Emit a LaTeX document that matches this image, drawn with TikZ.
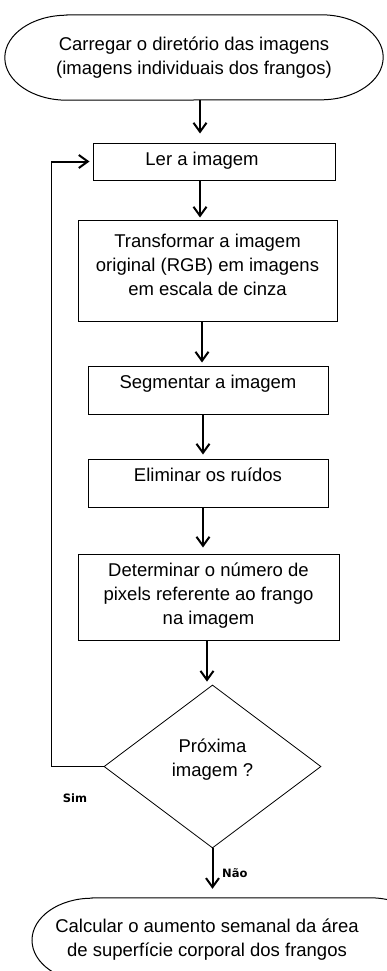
\documentclass[tikz,border=0pt]{standalone}
\usepackage{fontspec}
\setmainfont{Liberation Sans}
\newfontfamily\labfont{DejaVu Sans}
\usetikzlibrary{arrows.meta,shapes.geometric}
\begin{document}
\begin{tikzpicture}[x=1pt,y=-1pt,
  txt/.style={font=\fontsize{18.5}{24}\selectfont, align=center, inner sep=0pt},
  procbox/.style={txt, draw, line width=1pt, rectangle},
  arr/.style={line width=2pt, -{Straight Barb[length=9pt,width=13pt]}},
  thinline/.style={line width=1pt},
  lab/.style={font=\labfont\bfseries\fontsize{11.5}{13}\selectfont, inner sep=0pt}]
\useasboundingbox (0,0) rectangle (387,971);
\fill[white] (0,0) rectangle (387,971);
\clip (0,0) rectangle (387,971);

% start terminator
\node[txt, minimum width=378, minimum height=85] (T1) at (194,57.5)
  {Carregar o diretório das imagens\\(imagens individuais dos frangos)};
\draw[thinline] ([xshift=62]T1.north west) -- ([xshift=-62]T1.north east)
  arc[start angle=-90,end angle=90,x radius=62,y radius=42.5]
  -- ([xshift=62]T1.south west)
  arc[start angle=90,end angle=270,x radius=62,y radius=42.5] -- cycle;

\node[procbox, minimum width=242, minimum height=37, text depth=5] (L) at (214,161.5)
  {\hspace*{-24pt}Ler a imagem};
\node[procbox, minimum width=259, minimum height=101, text depth=12] (B2) at (207.5,270.5)
  {Transformar a imagem\\original (RGB) em imagens\\em escala de cinza};
\node[procbox, minimum width=240, minimum height=48, text depth=16] (B3) at (208,390)
  {Segmentar a imagem};
\node[procbox, minimum width=240, minimum height=48, text depth=16] (B4) at (208,483)
  {Eliminar os ruídos};
\node[procbox, minimum width=261, minimum height=86, text depth=7] (B5) at (208.5,597)
  {Determinar o número de\\pixels referente ao frango\\na imagem};
\node[txt, draw, diamond, line width=0.8pt, minimum width=217, minimum height=163,
  text depth=18.5] (D) at (212.5,766.5) {Próxima\\imagem ?};

% end terminator
\node[txt, minimum height=84] (B7) at (207,940)
  {Calcular o aumento semanal da área\\de superfície corporal dos frangos};
\draw[thinline] ([xshift=-115]B7.north) -- ([xshift=163]B7.north)
  arc[start angle=-90,end angle=90,x radius=60,y radius=42]
  -- ([xshift=-115]B7.south)
  arc[start angle=90,end angle=270,x radius=60,y radius=42] -- cycle;

% connectors
\draw[arr] ([xshift=6]T1.south) -- ([xshift=-14,yshift=9]L.north);
\draw[arr] ([xshift=-14]L.south) -- ([xshift=-7.5,yshift=2]B2.north);
\draw[arr] ([xshift=-5.5]B2.south) -- ([xshift=-6,yshift=3]B3.north);
\draw[arr] ([xshift=-5]B3.south) -- ([xshift=-5,yshift=4]B4.north);
\draw[arr] ([xshift=-5]B4.south) -- ([xshift=-5.5,yshift=6]B5.north);
\draw[arr] ([xshift=-1.5]B5.south) -- ([xshift=-5.5,yshift=3]D.north);
\draw[arr] (D.south) -- ([xshift=5.5,yshift=9]B7.north);

\coordinate (c2) at (51,161.5);
\draw[thinline] (D.west) -| (c2);
\draw[arr] (c2) -- ([xshift=-3]L.west);

\node[lab, anchor=base] (sim) at (75,802) {Sim};
\node[lab, anchor=base west] (nao) at (222,877) {Não};
\end{tikzpicture}
\end{document}
